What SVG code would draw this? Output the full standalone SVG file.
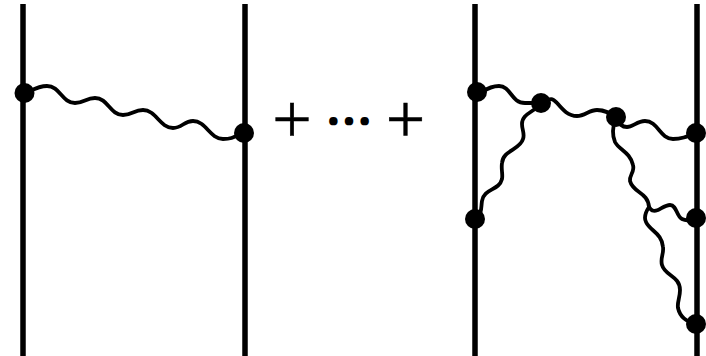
<svg xmlns="http://www.w3.org/2000/svg" width="706" height="356" viewBox="0 0 706 356">
<style>
.line{stroke:#000;stroke-width:5.5;fill:none}
.wave{stroke:#000;stroke-width:3.8;fill:none;stroke-linecap:round}
.dot{fill:#000}
.sym{font-family:"Liberation Serif",serif;font-size:70px;fill:#000;stroke:#000;stroke-width:.5;text-anchor:middle}
.dots{font-family:"Noto Sans CJK JP",sans-serif;font-size:47px;fill:#000;stroke:#000;stroke-width:2.2;text-anchor:middle;text-rendering:geometricPrecision}
</style>
<g id="connectors">
<path class="line" d="M23,4V356"/>
<path class="line" d="M245,4V356"/>
<path class="line" d="M475,4V356"/>
<path class="line" d="M697,4V356"/>
<path class="wave" d="M30,91C36,88 41,86 47,86C60,86 62,103 75,103C84,103 86,98 95,98C108,98 110,115 123,115C132,115 134,110 143,110C156,110 160,128 173,128C182,128 184,121 193,121C206,121 210,139 223,139C230,139 233,138 240,134"/>
<path class="wave" d="M482,92C488,88 493,86 499,86C511,86 511,103 525,103L541,103"/>
<path class="wave" d="M541,103C552,97 553,99 557,103C563,110 568,116 577,116C585,116 589,110 597,110C605,110 610,113 616,117"/>
<path class="wave" d="M616,117C620,125 622,127 627,127C633,127 637,121 645,121C658,121 660,139 673,139C681,139 686,137 696,133"/>
<path class="wave" d="M541,103C534,113 522,113 522,124C522,130 525,134 523,139C520,150 503,150 502,163C501,170 503,174 502,179C499,191 484,188 482,201C481,207 482,212 478,219"/>
<path class="wave" d="M616,117C612,128 612,135 615,142C619,150 630,152 633,165C635,172 629,175 630,181C633,193 648,192 649,207"/>
<path class="wave" d="M649,207C652,212 655,211 658,210C662,208 666,205 670,205C677,205 676,216 682,219C686,221 690,221 696,218"/>
<path class="wave" d="M649,207C645,213 644,218 646,222C650,231 662,233 663,247C664,254 660,258 662,265C665,276 680,276 680,290C680,298 677,302 678,308C680,317 686,321 696,325"/>
</g>
<g id="node-1"><circle class="dot" cx="24.5" cy="93" r="10"/></g>
<g id="node-2"><circle class="dot" cx="244" cy="133" r="10"/></g>
<g id="node-3"><circle class="dot" cx="477" cy="92" r="10"/></g>
<g id="node-4"><circle class="dot" cx="541" cy="103" r="10"/></g>
<g id="node-5"><circle class="dot" cx="616" cy="117" r="10"/></g>
<g id="node-6"><circle class="dot" cx="696" cy="133" r="10"/></g>
<g id="node-7"><circle class="dot" cx="475" cy="219" r="10"/></g>
<g id="node-8"><circle class="dot" cx="696" cy="218" r="10"/></g>
<g id="node-9"><circle class="dot" cx="696" cy="324" r="10"/></g>
<g id="labels">
<text class="sym" x="292" y="142.5">+</text>
<text class="dots" x="349" y="139">⋯</text>
<text class="sym" x="405.5" y="142.5">+</text>
</g>
</svg>
